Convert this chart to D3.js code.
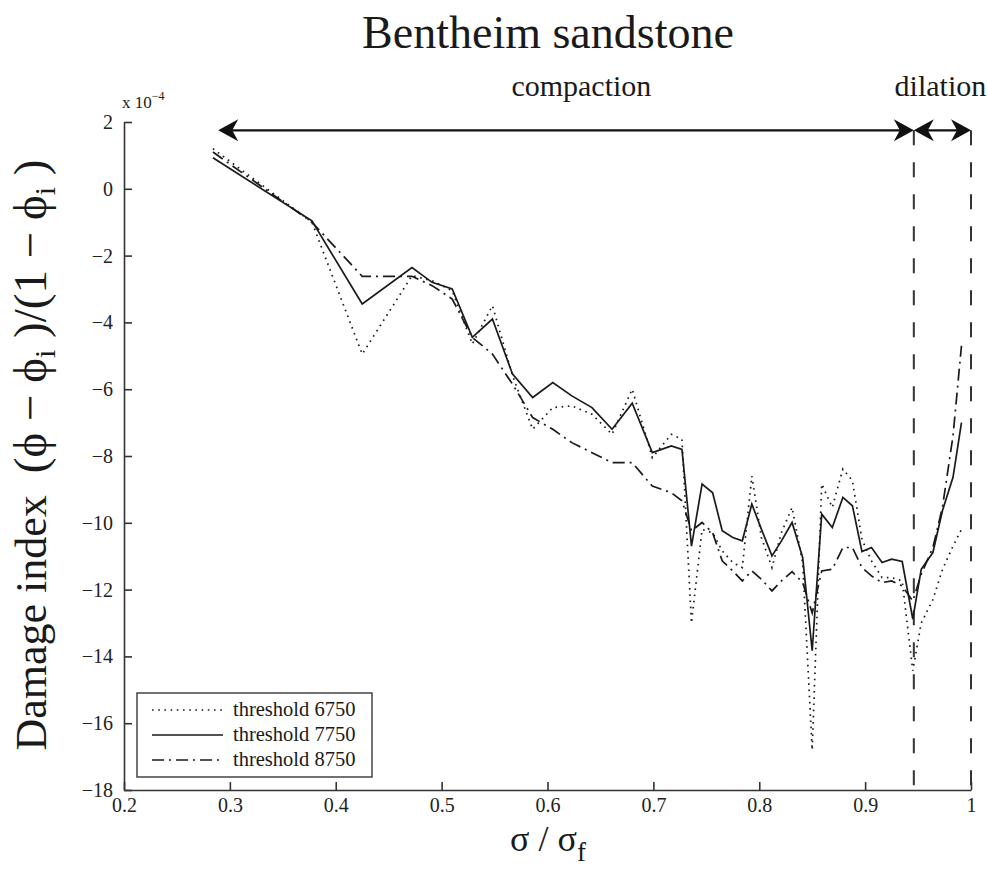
<!DOCTYPE html>
<html>
<head>
    <meta charset="utf-8" />
    <title>Bentheim sandstone</title>
    <script src="https://d3js.org/d3.v7.min.js"></script>
    <style type="text/css">
        body { margin: 0; background: #fff; }
        text { font-family: "Liberation Serif", "Times New Roman", serif; fill: #1a1a1a; white-space: pre; }
        .axis path, .axis line { stroke: #333; stroke-width: 1.6; }
        .axis text { font-size: 20px; font-family: "Liberation Serif", serif; fill: #222; }
        .line { fill: none; stroke: #1a1a1a; }
        .boundary { stroke: #333; stroke-width: 2; stroke-dasharray: 15, 17; }
        .arrow { stroke: #111; stroke-width: 2.4; }
        .arrowhead { fill: #111; }
    </style>
</head>
<body>
    <svg id="chart"></svg>
    <script>
        // stress ratio sigma / sigma_f
        var xValues = [0.284, 0.3775, 0.425, 0.472, 0.491, 0.510, 0.529, 0.548, 0.567, 0.586,
            0.605, 0.623, 0.642, 0.661, 0.680, 0.699, 0.717, 0.727, 0.736, 0.746,
            0.756, 0.765, 0.775, 0.784, 0.793, 0.802, 0.812, 0.821, 0.831, 0.841,
            0.850, 0.859, 0.869, 0.879, 0.888, 0.897, 0.906, 0.916, 0.925, 0.935,
            0.945, 0.953, 0.964, 0.973, 0.983, 0.991];

        // damage index, units of 1e-4
        var dmg6750 = [1.2, -1.0, -4.95, -2.6, -2.75, -3.05, -4.65, -3.5, -5.6, -7.2,
            -6.55, -6.5, -6.75, -7.35, -6.0, -8.05, -7.35, -7.5, -13.0, -10.2,
            -10.3, -10.84, -11.19, -11.34, -8.6, -10.44, -11.34, -10.29, -9.54, -11.2,
            -16.8, -8.84, -9.54, -8.39, -8.74, -10.5, -11.14, -11.64, -11.64, -11.74,
            -14.43, -13.0, -12.3, -11.4, -10.7, -10.2];

        var dmg7750 = [0.93, -0.96, -3.45, -2.36, -2.8, -3.0, -4.45, -3.9, -5.55, -6.25,
            -5.8, -6.2, -6.55, -7.2, -6.42, -7.9, -7.7, -7.8, -10.7, -8.84,
            -9.1, -10.24, -10.44, -10.54, -9.44, -10.19, -10.99, -10.54, -9.99, -11.04,
            -13.83, -9.74, -10.14, -9.24, -9.49, -10.86, -10.74, -11.19, -11.09, -11.16,
            -12.88, -11.39, -10.89, -9.64, -8.64, -7.0];

        var dmg8750 = [1.1, -1.0, -2.62, -2.62, -2.9, -3.3, -4.45, -4.95, -5.85, -6.85,
            -7.2, -7.6, -7.9, -8.2, -8.2, -8.9, -9.1, -9.34, -10.24, -9.99,
            -10.3, -11.14, -11.44, -11.74, -11.44, -11.69, -12.04, -11.74, -11.46, -11.79,
            -12.7, -11.44, -11.39, -10.74, -10.74, -11.34, -11.59, -11.79, -11.74, -11.89,
            -12.34, -11.54, -10.74, -9.54, -7.4, -4.7];

        var seriesNames = ['threshold 6750', 'threshold 7750', 'threshold 8750'];
        var xTicks = [0.2, 0.3, 0.4, 0.5, 0.6, 0.7, 0.8, 0.9, 1];
        var yTicks = [2, 0, -2, -4, -6, -8, -10, -12, -14, -16, -18];

        var compactionRange = [0.289, 0.946];
        var dilationRange = [0.946, 1.0];
        var arrowLevel = 1.75;

        var width = 988, height = 873;

        var svg = d3.select('#chart')
            .attr('width', width)
            .attr('height', height);

        var xScale = d3.scaleLinear().domain([0.2, 1]).range([124, 971]);
        var yScale = d3.scaleLinear().domain([-18, 2]).range([790, 122]);

        // axes with inward ticks, no box
        svg.append('g')
            .attr('class', 'axis')
            .attr('transform', 'translate(0,' + yScale(-18) + ')')
            .call(d3.axisBottom(xScale)
                .tickValues(xTicks)
                .tickFormat(d3.format('~g'))
                .tickSizeInner(-8)
                .tickSizeOuter(0)
                .tickPadding(8));

        svg.append('g')
            .attr('class', 'axis')
            .attr('transform', 'translate(' + xScale(0.2) + ',0)')
            .call(d3.axisLeft(yScale)
                .tickValues(yTicks)
                .tickSizeInner(-8)
                .tickSizeOuter(0)
                .tickPadding(11));

        // exponent label
        var expo = svg.append('text')
            .attr('x', xScale(0.2) - 2)
            .attr('y', 108)
            .style('font-size', '17px');
        expo.append('tspan').text('x 10');
        expo.append('tspan').attr('dy', -8).style('font-size', '12px').text('\u22124');

        // regime boundaries
        svg.selectAll('.boundary')
            .data(dilationRange)
            .enter()
            .append('line')
            .attr('class', 'boundary')
            .attr('x1', function (d) { return xScale(d); })
            .attr('x2', function (d) { return xScale(d); })
            .attr('y1', yScale(arrowLevel))
            .attr('y2', yScale(-18));

        var line = d3.line()
            .x(function (d) { return xScale(d[0]); })
            .y(function (d) { return yScale(d[1]); });

        var series = [
            { name: seriesNames[0], values: dmg6750, dash: '1.6,4.6', w: 1.7 },
            { name: seriesNames[1], values: dmg7750, dash: null, w: 1.7 },
            { name: seriesNames[2], values: dmg8750, dash: '12,5,2,5', w: 1.7 }
        ];

        series.forEach(function (s) {
            svg.append('path')
                .datum(xValues.map(function (x, i) { return [x, s.values[i]]; }))
                .attr('class', 'line')
                .attr('stroke-width', s.w)
                .attr('stroke-dasharray', s.dash)
                .attr('d', line);
        });

        // double arrows
        function arrowHead(x, y, dir) {
            var p = 'M0,0 L-20,-11 L-14,0 L-20,11 Z';
            svg.append('path')
                .attr('class', 'arrowhead')
                .attr('d', p)
                .attr('transform', 'translate(' + x + ',' + y + ') scale(' + dir + ',1)');
        }

        [compactionRange, dilationRange].forEach(function (r) {
            var y = yScale(arrowLevel);
            svg.append('line')
                .attr('class', 'arrow')
                .attr('x1', xScale(r[0]) + 10)
                .attr('x2', xScale(r[1]) - 10)
                .attr('y1', y)
                .attr('y2', y);
            arrowHead(xScale(r[0]), y, -1);
            arrowHead(xScale(r[1]), y, 1);
        });

        svg.append('text')
            .attr('x', xScale(0.632))
            .attr('y', 96)
            .attr('text-anchor', 'middle')
            .style('font-size', '30px')
            .text('compaction');

        svg.append('text')
            .attr('x', xScale((dilationRange[0] + dilationRange[1]) / 2) - 2)
            .attr('y', 96)
            .attr('text-anchor', 'middle')
            .style('font-size', '30px')
            .text('dilation');

        // title
        svg.append('text')
            .attr('x', 548)
            .attr('y', 48)
            .attr('text-anchor', 'middle')
            .style('font-size', '46px')
            .text('Bentheim sandstone');

        // x label
        var xl = svg.append('text')
            .attr('x', 548)
            .attr('y', 851)
            .attr('text-anchor', 'middle')
            .style('font-size', '36px');
        xl.append('tspan').text('\u03c3 / \u03c3');
        xl.append('tspan').attr('dy', 10).style('font-size', '27px').text('f');

        // y label
        var yl = svg.append('text')
            .attr('transform', 'translate(46,455) rotate(-90)')
            .attr('text-anchor', 'middle')
            .style('font-size', '44px');
        yl.append('tspan').text('Damage index  ');
        yl.append('tspan').style('font-size', '47px').text('(\u03d5 \u2212 \u03d5');
        yl.append('tspan').attr('dy', 9).style('font-size', '30px').text('i');
        yl.append('tspan').attr('dy', -9).style('font-size', '47px').text(' )/(1 \u2212 \u03d5');
        yl.append('tspan').attr('dy', 9).style('font-size', '30px').text('i');
        yl.append('tspan').attr('dy', -9).style('font-size', '47px').text(' )');

        // legend
        var lg = svg.append('g').attr('transform', 'translate(137,693)');
        lg.append('rect')
            .attr('width', 235)
            .attr('height', 84)
            .attr('fill', '#fff')
            .attr('stroke', '#444')
            .attr('stroke-width', 1.5);

        var rows = lg.selectAll('.row')
            .data(series)
            .enter()
            .append('g')
            .attr('transform', function (d, i) { return 'translate(0,' + (17 + i * 25) + ')'; });

        rows.append('line')
            .attr('x1', 15)
            .attr('x2', 86)
            .attr('stroke', '#1a1a1a')
            .attr('stroke-width', function (d) { return d.w; })
            .attr('stroke-dasharray', function (d) { return d.dash; });

        rows.append('text')
            .attr('x', 96)
            .attr('y', 6)
            .style('font-size', '20.5px')
            .text(function (d) { return d.name; });
    </script>
</body>
</html>
